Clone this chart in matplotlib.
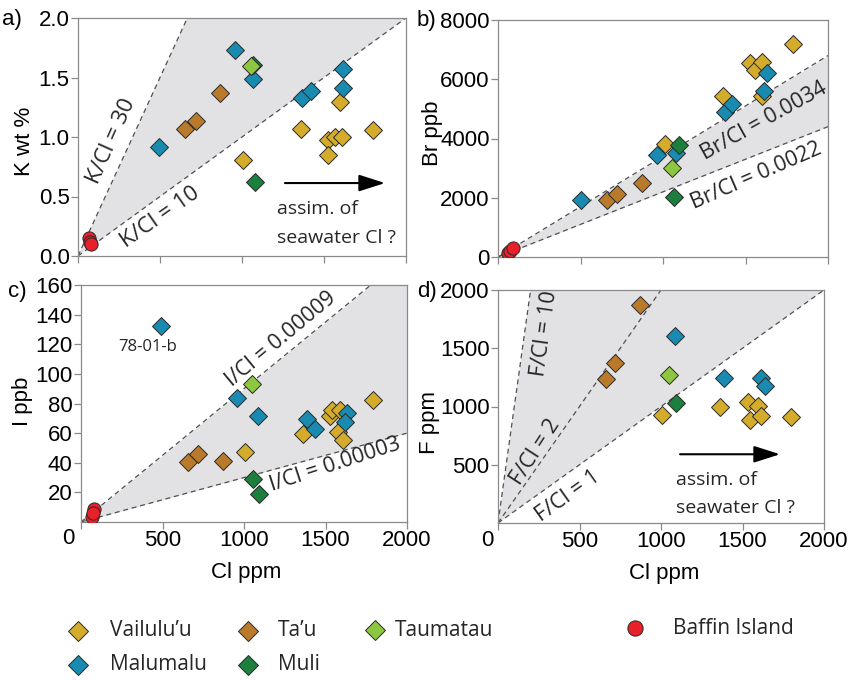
import numpy as np
import matplotlib
matplotlib.use('Agg')
import matplotlib.pyplot as plt

W, H = 857, 680
plt.rcParams['font.family'] = ['Liberation Sans', 'DejaVu Sans']
ANN = ['Open Sans', 'DejaVu Sans']

# ---------------- data ----------------
groups = ["Vailulu'u", "Ta'u", "Malumalu", "Muli", "Taumatau"]
group_colors = ["#d4ab2b", "#b97a2c", "#1a8bb0", "#1c7f3d", "#8dc640"]
baffin_color = "#e8202a"

# panel a: Cl ppm vs K wt%
a_cl_vail = [1008, 1360, 1526, 1567, 1608, 1526, 1598, 1797]
a_k_vail = [0.81, 1.067, 0.975, 1.00, 0.997, 0.849, 1.29, 1.059]
a_cl_tau = [655, 720, 866]
a_k_tau = [1.067, 1.137, 1.367]
a_cl_malu = [496, 959, 1069, 1364, 1419, 1614, 1614]
a_k_malu = [0.92, 1.73, 1.485, 1.33, 1.387, 1.569, 1.41]
a_cl_muli = [1081, 1068]
a_k_muli = [0.624, 1.605]
a_cl_taum = [1053]
a_k_taum = [1.60]
a_cl_baffin = [65, 75, 80]
a_k_baffin = [0.15, 0.12, 0.10]

# panel b: Cl ppm vs Br ppb
b_cl_vail = [1012, 1362, 1527, 1558, 1598, 1600, 1790]
b_br_vail = [3826, 5420, 6540, 6313, 6594, 5422, 7180]
b_cl_tau = [659, 723, 871]
b_br_tau = [1908, 2132, 2487]
b_cl_malu = [501, 962, 1077, 1376, 1421, 1628, 1610]
b_br_malu = [1908, 3448, 3525, 4890, 5180, 6203, 5600]
b_cl_muli = [1099, 1067]
b_br_muli = [3782, 2019]
b_cl_taum = [1055]
b_br_taum = [2990]
b_cl_baffin = [62, 73, 89]
b_br_baffin = [124, 211, 291]

# panel c: Cl ppm vs I ppb
c_cl_vail = [1006, 1360, 1528, 1538, 1589, 1579, 1606, 1793]
c_i_vail = [47.0, 59.5, 71.4, 75.9, 75.9, 60.5, 55.6, 82.2]
c_cl_tau = [658, 720, 869]
c_i_tau = [40.5, 46.1, 41.4]
c_cl_malu = [491, 955, 1084, 1389, 1436, 1630, 1620]
c_i_malu = [132, 83.4, 71.4, 69.8, 63.1, 73.7, 67.6]
c_cl_muli = [1057, 1092]
c_i_muli = [29.2, 19.0]
c_cl_taum = [1047]
c_i_taum = [93.4]
c_cl_baffin = [68, 82, 75]
c_i_baffin = [3.6, 8.6, 6.0]

# panel d: Cl ppm vs F ppm
d_cl_vail = [1008, 1362, 1532, 1597, 1546, 1612, 1796]
d_f_vail = [929, 994, 1037, 1008, 886, 917, 909]
d_cl_tau = [663, 720, 871]
d_f_tau = [1234, 1376, 1869]
d_cl_malu = [1086, 1387, 1612, 1638]
d_f_malu = [1601, 1242, 1242, 1179]
d_cl_muli = [1092]
d_f_muli = [1034]
d_cl_taum = [1051]
d_f_taum = [1274]

# reference ratio lines
k_ratios = [30, 10]            # K/Cl  (K in wt%, Cl ppm)
br_ratios = [0.0034, 0.0022]   # Br/Cl (Br ppb)
i_ratios = [0.00009, 0.00003]  # I/Cl  (I ppb)
f_ratios = [10, 2, 1]          # F/Cl  (F ppm)

cl_ticks = [0, 500, 1000, 1500, 2000]
cl_ticklabels = ['', '500', '1000', '1500', '2000']
k_ticks = [0.0, 0.5, 1.0, 1.5, 2.0]
br_ticks = [0, 2000, 4000, 6000, 8000]
i_ticks = [20, 40, 60, 80, 100, 120, 140, 160]
f_ticks = [500, 1000, 1500, 2000]

fig = plt.figure(figsize=(W / 100, H / 100), dpi=100)


def add_axes_px(l, t, r, b):
    return fig.add_axes([l / W, 1 - b / H, (r - l) / W, (b - t) / H])


SPINE = '#8a8a8a'
SHADE = '#e2e2e4'
DASH = '#505050'
TXT = '#262626'


def style(ax):
    for s in ax.spines.values():
        s.set_color(SPINE)
        s.set_linewidth(0.9)
    ax.tick_params(direction='out', length=5, width=0.9, color=SPINE,
                   labelsize=16, pad=1, labelcolor='black')


def scatter_groups(ax, xs, ys):
    for x, y, c in zip(xs, ys, group_colors):
        ax.plot(x, y, 'D', ms=9, mfc=c, mec='#2a2a2a', mew=0.7,
                ls='none', zorder=4)


def baffin(ax, x, y):
    ax.plot(x, y, 'o', ms=9.5, mfc=baffin_color, mec='#2a2a2a', mew=0.7,
            ls='none', zorder=5)


def ratio_lines(ax, ratios, factor, xmax=2000):
    xx = np.linspace(0, xmax, 200)
    ys = [r * xx * factor for r in ratios]
    ax.fill_between(xx, ys[-1], ys[0], color=SHADE, lw=0, zorder=1)
    for y in ys:
        ax.plot(xx, y, color=DASH, lw=0.9, ls=(0, (4, 3)), zorder=2)


def rtext(ax, x, y, s, rot, size=15.5):
    ax.text(x, y, s, rotation=rot, rotation_mode='anchor', ha='center',
            va='center', fontsize=size, family=ANN, color=TXT, zorder=3)


def arrow(ax, x0, x1, y):
    ax.annotate('', xy=(x1, y), xytext=(x0, y),
                arrowprops=dict(arrowstyle='-|>,head_length=1.0,head_width=0.32',
                                color='black', lw=1.5, mutation_scale=16,
                                shrinkA=0, shrinkB=0), zorder=3)


# ---------------- panel a ----------------
ax = add_axes_px(78, 18, 406, 256)
style(ax)
ratio_lines(ax, k_ratios, 1e-4)
scatter_groups(ax, [a_cl_vail, a_cl_tau, a_cl_malu, a_cl_muli, a_cl_taum],
               [a_k_vail, a_k_tau, a_k_malu, a_k_muli, a_k_taum])
baffin(ax, a_cl_baffin, a_k_baffin)
ax.set_xlim(0, 2000)
ax.set_ylim(0, 2.0)
ax.set_xticks(cl_ticks)
ax.set_xticklabels([])
ax.set_yticks(k_ticks)
ax.set_yticklabels(['%.1f' % v for v in k_ticks])
ax.set_ylabel('K wt %', fontsize=16)
ax.yaxis.set_label_coords(-0.131, 0.483)
rtext(ax, 207, 0.966, 'K/Cl = 30', 66, 16)
rtext(ax, 500, 0.324, 'K/Cl = 10', 35, 16)
arrow(ax, 1262, 1872, 0.613)
ax.text(1215, 0.353, 'assim. of', fontsize=14, family=ANN, color=TXT, va='baseline')
ax.text(1215, 0.109, 'seawater Cl ?', fontsize=14, family=ANN, color=TXT, va='baseline')

# ---------------- panel b ----------------
ax = add_axes_px(498, 20, 828, 257)
style(ax)
ratio_lines(ax, br_ratios, 1e3)
scatter_groups(ax, [b_cl_vail, b_cl_tau, b_cl_malu, b_cl_muli, b_cl_taum],
               [b_br_vail, b_br_tau, b_br_malu, b_br_muli, b_br_taum])
baffin(ax, b_cl_baffin, b_br_baffin)
ax.set_xlim(0, 2000)
ax.set_ylim(0, 8000)
ax.set_xticks(cl_ticks)
ax.set_xticklabels([])
ax.set_yticks(br_ticks)
ax.set_ylabel('Br ppb', fontsize=16)
ax.yaxis.set_label_coords(-0.167, 0.523)
rtext(ax, 1612, 4586, 'Br/Cl = 0.0034', 29)
rtext(ax, 1564, 2745, 'Br/Cl = 0.0022', 23.5)

# ---------------- panel c ----------------
ax = add_axes_px(81, 285, 407, 522)
style(ax)
ratio_lines(ax, i_ratios, 1e3)
scatter_groups(ax, [c_cl_vail, c_cl_tau, c_cl_malu, c_cl_muli, c_cl_taum],
               [c_i_vail, c_i_tau, c_i_malu, c_i_muli, c_i_taum])
baffin(ax, c_cl_baffin, c_i_baffin)
ax.set_xlim(0, 2000)
ax.set_ylim(0, 160)
ax.set_xticks(cl_ticks)
ax.set_xticklabels(cl_ticklabels)
ax.set_yticks(i_ticks)
ax.set_ylabel('I ppb', fontsize=16)
ax.yaxis.set_label_coords(-0.147, 0.508)
ax.set_xlabel('Cl ppm', fontsize=16)
ax.xaxis.set_label_coords(0.506, -0.169)
ax.annotate('0', xy=(0, 0), xycoords='axes fraction', xytext=(-13, -16),
            textcoords='offset pixels', ha='center', va='center', fontsize=16)
rtext(ax, 1227, 123.4, 'I/Cl = 0.00009', 39.7)
rtext(ax, 1558, 38.6, 'I/Cl = 0.00003', 18)
ax.text(411, 118.2, '78-01-b', fontsize=12, family=ANN, color=TXT,
        ha='center', va='center')

# ---------------- panel d ----------------
ax = add_axes_px(498, 290, 824, 523)
style(ax)
ratio_lines(ax, f_ratios, 1.0)
scatter_groups(ax, [d_cl_vail, d_cl_tau, d_cl_malu, d_cl_muli, d_cl_taum],
               [d_f_vail, d_f_tau, d_f_malu, d_f_muli, d_f_taum])
ax.set_xlim(0, 2000)
ax.set_ylim(0, 2000)
ax.set_xticks(cl_ticks)
ax.set_xticklabels(cl_ticklabels)
ax.set_yticks(f_ticks)
ax.set_ylabel('F ppm', fontsize=16)
ax.yaxis.set_label_coords(-0.178, 0.43)
ax.set_xlabel('Cl ppm', fontsize=16)
ax.xaxis.set_label_coords(0.509, -0.172)
ax.annotate('0', xy=(0, 0), xycoords='axes fraction', xytext=(-11, -17),
            textcoords='offset pixels', ha='center', va='center', fontsize=16)
rtext(ax, 288, 1624, 'F/Cl = 10', 82)
rtext(ax, 227, 607, 'F/Cl = 2', 57)
rtext(ax, 429, 231, 'F/Cl = 1', 35.5)
arrow(ax, 1117, 1730, 590)
ax.text(1095, 325, 'assim. of', fontsize=14, family=ANN, color=TXT, va='baseline')
ax.text(1095, 85, 'seawater Cl ?', fontsize=14, family=ANN, color=TXT, va='baseline')

# ---------------- panel letters & legend ----------------
lax = fig.add_axes([0, 0, 1, 1])
lax.set_xlim(0, W)
lax.set_ylim(H, 0)
lax.axis('off')
for s, x, y in [('a)', 2, 25), ('b)', 417, 26), ('c)', 8, 297), ('d)', 417, 297)]:
    lax.text(x, y, s, fontsize=16, va='baseline', ha='left')

legend_labels = ["Vailulu\u2019u", "Ta\u2019u", "Malumalu", "Muli", "Taumatau"]
legend_marker_xy = [(78, 631), (248, 631), (78, 665), (248, 665), (375, 630)]
legend_text_x = [110, 278, 110, 278, 395]
for lab, (mx, my), tx, c in zip(legend_labels, legend_marker_xy, legend_text_x, group_colors):
    lax.plot([mx], [my], 'D', ms=10, mfc=c, mec='#2a2a2a', mew=0.7, ls='none')
    lax.text(tx, my, lab, fontsize=15, family=ANN, color=TXT, va='center', ha='left')
lax.plot([635], [628], 'o', ms=11, mfc=baffin_color, mec='#2a2a2a', mew=0.7, ls='none')
lax.text(673, 628, 'Baffin Island', fontsize=15, family=ANN, color=TXT, va='center', ha='left')

fig.savefig('out.png', dpi=100)
